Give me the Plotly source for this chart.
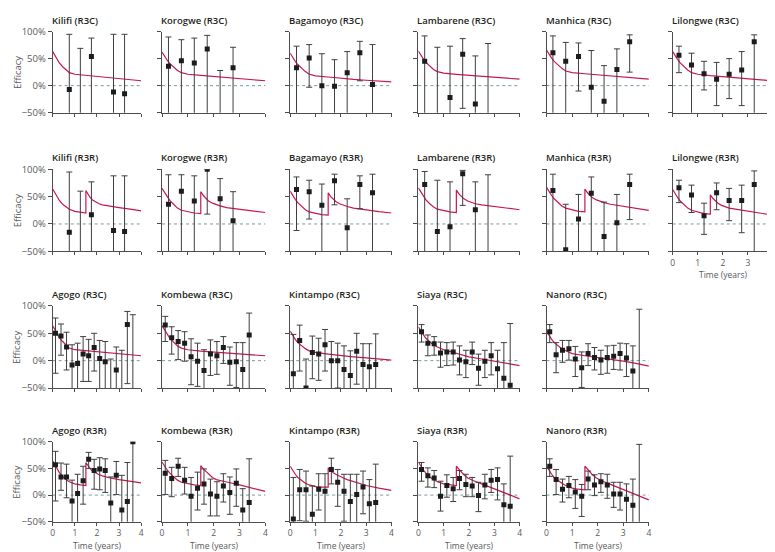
import plotly.graph_objects as go

# ---------------- data ----------------
T6_5A = [0.75, 1.25, 1.75, 2.75, 3.25]
T6_6 = [0.25, 0.75, 1.25, 1.75, 2.25, 2.75]
T6_7 = [0.25, 0.75, 1.25, 1.75, 2.25, 2.75, 3.25]
T3_14 = [0.125, 0.375, 0.625, 0.875, 1.125, 1.375, 1.625, 1.875, 2.125, 2.375, 2.625, 2.875, 3.125, 3.375]
T3_15 = T3_14 + [3.625]

FIT_T_C = [0, 0.1, 0.2, 0.3, 0.45, 0.6, 0.75, 1.0, 1.5, 2.0, 2.5, 3.0, 3.5, 4.0]
FIT_T_R = [0, 0.1, 0.2, 0.3, 0.45, 0.6, 0.75, 1.0, 1.25, 1.5, 1.5, 1.6, 1.7, 1.8, 1.95, 2.1, 2.25, 2.5, 3.0, 3.5, 4.0]

# Row 1 (R3C)
kilifi_r3c_eff = [-7, -70, 54, -12, -15]
kilifi_r3c_lo = [-100, -100, -100, -100, -100]
kilifi_r3c_hi = [95, 69, 88, 95, 95]
kilifi_r3c_fit = [63, 55, 48, 42, 35, 29, 24, 21, 19, 17, 15, 13, 11, 9]

korogwe_r3c_eff = [36, 46, 42, 68, -70, 33]
korogwe_r3c_lo = [-100, -100, -100, -100, -100, -100]
korogwe_r3c_hi = [90, 85, 88, 93, 28, 71]
korogwe_r3c_fit = [62, 54, 47, 41, 34, 28, 24, 21, 19, 17, 15, 13, 11, 9]

bagamoyo_r3c_eff = [33, 51, 0, -1, 24, 61, 2]
bagamoyo_r3c_lo = [-100, -3, -100, -100, -100, 9, -100]
bagamoyo_r3c_hi = [73, 76, 59, 48, 63, 82, 76]
bagamoyo_r3c_fit = [60, 52, 45, 39, 32, 26, 21, 18, 16, 13.5, 11.5, 10, 8.5, 7]

lambarene_r3c_eff = [45, -70, -22, 58, -34, -70]
lambarene_r3c_lo = [-100, -100, -100, -42, -100, -100]
lambarene_r3c_hi = [92, 71, 73, 87, 55, 78]
lambarene_r3c_fit = [64, 56, 49, 43, 36, 30, 26, 23, 21, 19, 17, 15.5, 13.5, 12]

manhica_r3c_eff = [61, 45, 54, -3, -29, 30, 81]
manhica_r3c_lo = [-100, -100, -10, -100, -100, -100, 25]
manhica_r3c_hi = [92, 80, 79, 65, 37, 68, 94]
manhica_r3c_fit = [66, 58, 51, 45, 38, 32, 27, 24, 22, 20, 18, 16, 14, 12]

lilongwe_r3c_eff = [56, 38, 22, 12, 21, 29, 81]
lilongwe_r3c_lo = [24, -100, -8, -37, -24, -37, -100]
lilongwe_r3c_hi = [73, 60, 45, 43, 50, 63, 94]
lilongwe_r3c_fit = [63, 55, 48, 42, 35, 29, 24, 21, 18.5, 16.5, 14.5, 12.5, 11, 9]

# Row 2 (R3R)
kilifi_r3r_eff = [-15, -70, 17, -12, -14]
kilifi_r3r_lo = [-100, -100, -100, -100, -100]
kilifi_r3r_hi = [95, 60, 77, 88, 88]
kilifi_r3r_fit = [64, 56, 49, 43, 36, 31, 27, 23, 21, 20, 61, 54, 48, 44, 40, 37, 35, 33, 30, 27, 24]

korogwe_r3r_eff = [36, 60, 42, 100, 46, 6]
korogwe_r3r_lo = [-100, -100, -100, 18, -100, -100]
korogwe_r3r_hi = [90, 90, 88, 100, 83, 59]
korogwe_r3r_fit = [65, 57, 50, 43, 36, 29, 25, 22, 20, 19, 59, 52, 46, 42, 38, 35, 33, 30, 27, 24, 21]

bagamoyo_r3r_eff = [63, 59, 34, 79, -7, 72, 57]
bagamoyo_r3r_lo = [-12, 9, -100, 35, -100, 28, -100]
bagamoyo_r3r_hi = [86, 80, 73, 91, 46, 88, 91]
bagamoyo_r3r_fit = [60, 52, 45, 39, 32, 26, 22, 19, 17, 16, 57, 50, 45, 41, 37, 34, 32, 29, 25.5, 22.5, 20]

lambarene_r3r_eff = [72, -14, -5, 92, 26, -70]
lambarene_r3r_lo = [-100, -100, -100, 34, -100, -100]
lambarene_r3r_hi = [96, 80, 77, 98, 77, 90]
lambarene_r3r_fit = [66, 58, 51, 44, 37, 31, 27, 24, 22, 21, 62, 55, 50, 46, 42, 39, 37, 35, 32, 29, 26]

manhica_r3r_eff = [61, -47, 9, 56, -23, 2, 72]
manhica_r3r_lo = [-100, -100, -100, -100, -100, -100, 8]
manhica_r3r_hi = [91, 36, 54, 86, 40, 54, 91]
manhica_r3r_fit = [67, 59, 52, 46, 39, 33, 29, 26, 23, 22, 64, 57, 52, 48, 44, 41, 39, 36, 32, 28.5, 25]

lilongwe_r3r_eff = [66, 53, 15, 57, 43, 43, 72]
lilongwe_r3r_lo = [39, 21, -19, 26, 6, -16, -100]
lilongwe_r3r_hi = [80, 71, 38, 75, 65, 71, 97]
lilongwe_r3r_fit = [63, 55, 48, 42, 35, 29, 25, 22, 19, 18, 53, 47, 42, 38, 34, 31, 29, 27, 23, 19.5, 16]

# Row 3 (R3C)
agogo_r3c_eff = [50, 45, 25, -8, -5, 12, 9, 24, 4, -2, -70, -17, -70, 66, -70]
agogo_r3c_lo = [-23, 10, -17, -100, -100, -38, -38, -19, -100, -100, -100, -100, -100, -42, -100]
agogo_r3c_hi = [78, 67, 52, 29, 32, 44, 39, 50, 37, 35, 3, 25, 19, 90, 84]
agogo_r3c_fit = [64, 56, 49, 42, 35, 28, 23, 20, 18, 16, 14, 12.5, 11, 9]

kombewa_r3c_eff = [65, 42, 35, 32, 7, -1, -18, 12, 9, 24, -3, -2, -16, 47]
kombewa_r3c_lo = [35, 12, 2, -1, -44, -47, -100, -27, -25, -5, -45, -49, -100, -100]
kombewa_r3c_hi = [81, 62, 55, 53, 40, 32, 20, 38, 35, 44, 25, 33, 33, 87]
kombewa_r3c_fit = [64, 56, 48, 41, 34, 27, 23, 20, 17.5, 15.5, 14, 12, 10.5, 9]

kintampo_r3c_eff = [-24, 37, -50, 15, 12, 29, 0, 0, -16, -27, 17, -7, -11, -7]
kintampo_r3c_lo = [-100, -19, -100, -33, -36, -19, -100, -50, -100, -100, -43, -100, -100, -100]
kintampo_r3c_hi = [48, 65, 3, 45, 41, 57, 35, 32, 27, 18, 50, 31, 31, 49]
kintampo_r3c_fit = [54, 46, 39, 33, 27, 22, 18, 15, 12, 9, 7, 5, 3, 1]

siaya_r3c_eff = [53, 32, 31, 14, 16, 16, 1, -2, 16, -14, -1, 9, -15, -32, -45]
siaya_r3c_lo = [34, 9, 10, -12, -9, -8, -26, -31, -7, -45, -31, -26, -100, -100, -100]
siaya_r3c_hi = [66, 47, 44, 34, 33, 34, 27, 19, 34, 12, 19, 33, 19, 33, 68]
siaya_r3c_fit = [62, 54, 47, 41, 34, 29, 25, 20, 13, 7, 3, -1, -5, -9]

nanoro_r3c_eff = [53, 11, 19, 22, 3, -13, 13, 6, 1, 6, 8, 13, 5, -19, -70]
nanoro_r3c_lo = [33, -22, -3, 1, -29, -49, -9, -17, -25, -23, -16, -17, -29, -100, -100]
nanoro_r3c_hi = [66, 33, 37, 37, 26, 16, 31, 24, 19, 27, 28, 32, 31, 27, 94]
nanoro_r3c_fit = [54, 46, 39, 33, 27, 22, 18, 13, 9, 6, 3, -1, -5, -10]

# Row 4 (R3R)
agogo_r3r_eff = [57, 34, 34, -11, 3, 27, 67, 46, 49, 46, -15, 37, -28, -12, 100]
agogo_r3r_lo = [-11, 9, -5, -100, -100, -17, 50, 11, 10, 5, -100, 1, -100, -100, -100]
agogo_r3r_hi = [82, 60, 58, 28, 39, 54, 80, 67, 70, 68, 34, 63, 37, 61, 100]
agogo_r3r_fit = [64, 56, 49, 42, 35, 29, 25, 21, 19, 18, 61, 54, 49, 45, 41, 38, 36, 33, 29, 26, 23]

kombewa_r3r_eff = [41, 31, 54, 28, -2, 13, 21, 2, -2, 17, 5, 22, -28, -14]
kombewa_r3r_lo = [1, -3, 35, 2, -100, -28, -17, -39, -39, -13, -36, -21, -100, -100]
kombewa_r3r_hi = [65, 52, 69, 52, 33, 43, 49, 30, 25, 40, 34, 49, 12, 68]
kombewa_r3r_fit = [62, 54, 47, 41, 34, 28, 24, 21, 19, 18, 55, 49, 44, 40, 33, 29, 27, 24.5, 19, 13, 7]

kintampo_r3r_eff = [-45, 10, 10, -36, 11, 7, 48, 24, 7, -12, 1, 15, -16, -14]
kintampo_r3r_lo = [-100, -48, -49, -100, -28, -100, 21, -21, -49, -100, -100, -35, -100, -100]
kintampo_r3r_hi = [33, 48, 45, 17, 40, 40, 69, 48, 39, 39, 39, 45, 29, 58]
kintampo_r3r_fit = [54, 46, 39, 33, 27, 22, 19, 16, 15, 15, 51, 46, 42, 39, 35, 32, 29, 25, 18, 13, 9]

siaya_r3r_eff = [48, 36, 32, -2, 18, 12, 31, 20, 17, -1, 19, 28, 29, -18, -21]
siaya_r3r_lo = [26, 15, 14, -30, -4, -12, 10, -3, -3, -31, -7, 5, -9, -100, -100]
siaya_r3r_hi = [61, 51, 46, 26, 38, 33, 46, 39, 33, 24, 39, 48, 51, 21, 73]
siaya_r3r_fit = [62, 54, 47, 41, 34, 29, 25, 21, 19, 18, 54, 48, 43, 38, 32, 28, 25.5, 21, 11.5, 2, -7]

nanoro_r3r_eff = [54, 29, 11, 18, 6, -2, 30, 19, 25, 19, 2, 2, -8, -19, -70]
nanoro_r3r_lo = [35, 1, -13, -5, -25, -40, 10, -1, 5, -6, -23, -28, -100, -100, -100]
nanoro_r3r_hi = [68, 48, 30, 35, 29, 20, 45, 38, 40, 39, 24, 24, 21, 30, 95]
nanoro_r3r_fit = [54, 46, 39, 33, 27, 22, 18, 13, 11, 10, 54, 48, 43, 38, 32, 28, 25, 20, 10, 0.5, -9]

X_TICKS = [0, 1, 2, 3, 4]
Y_TICKS = [-50, 0, 50, 100]
Y_TICK_TEXT = ["\u221250%", "0%", "50%", "100%"]

# (title, row, col, times, eff, lo, hi, fit_t, fit)
panels = [
    ("Kilifi (R3C)", 0, 0, T6_5A, kilifi_r3c_eff, kilifi_r3c_lo, kilifi_r3c_hi, FIT_T_C, kilifi_r3c_fit),
    ("Korogwe (R3C)", 0, 1, T6_6, korogwe_r3c_eff, korogwe_r3c_lo, korogwe_r3c_hi, FIT_T_C, korogwe_r3c_fit),
    ("Bagamoyo (R3C)", 0, 2, T6_7, bagamoyo_r3c_eff, bagamoyo_r3c_lo, bagamoyo_r3c_hi, FIT_T_C, bagamoyo_r3c_fit),
    ("Lambarene (R3C)", 0, 3, T6_6, lambarene_r3c_eff, lambarene_r3c_lo, lambarene_r3c_hi, FIT_T_C, lambarene_r3c_fit),
    ("Manhica (R3C)", 0, 4, T6_7, manhica_r3c_eff, manhica_r3c_lo, manhica_r3c_hi, FIT_T_C, manhica_r3c_fit),
    ("Lilongwe (R3C)", 0, 5, T6_7, lilongwe_r3c_eff, lilongwe_r3c_lo, lilongwe_r3c_hi, FIT_T_C, lilongwe_r3c_fit),
    ("Kilifi (R3R)", 1, 0, T6_5A, kilifi_r3r_eff, kilifi_r3r_lo, kilifi_r3r_hi, FIT_T_R, kilifi_r3r_fit),
    ("Korogwe (R3R)", 1, 1, T6_6, korogwe_r3r_eff, korogwe_r3r_lo, korogwe_r3r_hi, FIT_T_R, korogwe_r3r_fit),
    ("Bagamayo (R3R)", 1, 2, T6_7, bagamoyo_r3r_eff, bagamoyo_r3r_lo, bagamoyo_r3r_hi, FIT_T_R, bagamoyo_r3r_fit),
    ("Lambarene (R3R)", 1, 3, T6_6, lambarene_r3r_eff, lambarene_r3r_lo, lambarene_r3r_hi, FIT_T_R, lambarene_r3r_fit),
    ("Manhica (R3R)", 1, 4, T6_7, manhica_r3r_eff, manhica_r3r_lo, manhica_r3r_hi, FIT_T_R, manhica_r3r_fit),
    ("Lilongwe (R3R)", 1, 5, T6_7, lilongwe_r3r_eff, lilongwe_r3r_lo, lilongwe_r3r_hi, FIT_T_R, lilongwe_r3r_fit),
    ("Agogo (R3C)", 2, 0, T3_15, agogo_r3c_eff, agogo_r3c_lo, agogo_r3c_hi, FIT_T_C, agogo_r3c_fit),
    ("Kombewa (R3C)", 2, 1, T3_14, kombewa_r3c_eff, kombewa_r3c_lo, kombewa_r3c_hi, FIT_T_C, kombewa_r3c_fit),
    ("Kintampo (R3C)", 2, 2, T3_14, kintampo_r3c_eff, kintampo_r3c_lo, kintampo_r3c_hi, FIT_T_C, kintampo_r3c_fit),
    ("Siaya (R3C)", 2, 3, T3_15, siaya_r3c_eff, siaya_r3c_lo, siaya_r3c_hi, FIT_T_C, siaya_r3c_fit),
    ("Nanoro (R3C)", 2, 4, T3_15, nanoro_r3c_eff, nanoro_r3c_lo, nanoro_r3c_hi, FIT_T_C, nanoro_r3c_fit),
    ("Agogo (R3R)", 3, 0, T3_15, agogo_r3r_eff, agogo_r3r_lo, agogo_r3r_hi, FIT_T_R, agogo_r3r_fit),
    ("Kombewa (R3R)", 3, 1, T3_14, kombewa_r3r_eff, kombewa_r3r_lo, kombewa_r3r_hi, FIT_T_R, kombewa_r3r_fit),
    ("Kintampo (R3R)", 3, 2, T3_14, kintampo_r3r_eff, kintampo_r3r_lo, kintampo_r3r_hi, FIT_T_R, kintampo_r3r_fit),
    ("Siaya (R3R)", 3, 3, T3_15, siaya_r3r_eff, siaya_r3r_lo, siaya_r3r_hi, FIT_T_R, siaya_r3r_fit),
    ("Nanoro (R3R)", 3, 4, T3_15, nanoro_r3r_eff, nanoro_r3r_lo, nanoro_r3r_hi, FIT_T_R, nanoro_r3r_fit),
]

# ---------------- layout geometry (pixels) ----------------
W, H = 775, 552
COLS = [(43, 132), (153, 257), (282, 384), (411, 513), (540, 643), (667, 768)]
ROWS = [(17, 100), (158, 242), (298, 382), (437, 519)]

AXIS_COLOR = "#4d4d4f"
TEXT_COLOR = "#58595b"
FONT = "Open Sans"
FIT_COLOR = "#c8174f"
BAR_COLOR = "#3f3f40"
ZERO_COLOR = "#7b98a6"
TICK_SIZE = 8.5
LABEL_SIZE = 8.5

fig = go.Figure()
layout = dict(
    width=W, height=H,
    margin=dict(l=0, r=0, t=0, b=0),
    paper_bgcolor="white", plot_bgcolor="white",
    showlegend=False,
    font=dict(family=FONT, size=TICK_SIZE, color=TEXT_COLOR),
)
annotations = []
shapes = []

for i, (title, r, c, t, eff, lo, hi, ft, fit) in enumerate(panels, start=1):
    xa = "x" if i == 1 else f"x{i}"
    ya = "y" if i == 1 else f"y{i}"
    x0, x1 = COLS[c]
    y0, y1 = ROWS[r]
    show_x = (r == 3) or (r == 1 and c == 5)
    show_y = (c == 0)
    layout["xaxis" if i == 1 else f"xaxis{i}"] = dict(
        domain=[x0 / W, x1 / W], anchor=ya, range=[0, 4],
        tickvals=X_TICKS, showticklabels=show_x, ticks="outside", ticklen=3,
        tickcolor=AXIS_COLOR, tickwidth=1, showline=True, linecolor=AXIS_COLOR,
        linewidth=1, showgrid=False, zeroline=False,
        tickfont=dict(family=FONT, size=TICK_SIZE, color=TEXT_COLOR), fixedrange=True,
    )
    layout["yaxis" if i == 1 else f"yaxis{i}"] = dict(
        domain=[1 - y1 / H, 1 - y0 / H], anchor=xa, range=[-50, 100],
        tickvals=Y_TICKS, ticktext=Y_TICK_TEXT, showticklabels=show_y,
        ticks="outside", ticklen=4, tickcolor=AXIS_COLOR, tickwidth=1,
        showline=True, linecolor=AXIS_COLOR, linewidth=1, showgrid=False,
        zeroline=False, tickfont=dict(family=FONT, size=9.5, color=TEXT_COLOR),
        fixedrange=True,
    )
    shapes.append(dict(type="line", xref=f"{xa} domain", yref=ya, x0=0, x1=1,
                       y0=0, y1=0, line=dict(color=ZERO_COLOR, width=1, dash="3px,3px"),
                       layer="below"))
    fig.add_trace(go.Scatter(x=ft, y=fit, mode="lines", xaxis=xa, yaxis=ya,
                             line=dict(color=FIT_COLOR, width=1.2), hoverinfo="skip"))
    fig.add_trace(go.Scatter(
        x=t, y=eff, mode="markers", xaxis=xa, yaxis=ya,
        marker=dict(symbol="square", size=5, color="#1c1c1c"),
        error_y=dict(type="data", symmetric=False,
                     array=[h - e for h, e in zip(hi, eff)],
                     arrayminus=[e - l for e, l in zip(eff, lo)],
                     color=BAR_COLOR, thickness=1, width=3),
    ))
    annotations.append(dict(text=title, xref="paper", yref="paper", x=(x0 - 2) / W,
                            y=1 - (y0 - 4) / H, xanchor="left", yanchor="bottom",
                            showarrow=False, borderpad=0,
                            font=dict(family=FONT, size=9.5, color="#231f20", weight=600)))
    if show_y:
        annotations.append(dict(text="Efficacy", xref="paper", yref="paper",
                                x=7 / W, y=1 - (y0 + y1) / 2 / H, textangle=-90,
                                xanchor="center", yanchor="middle", showarrow=False,
                                borderpad=0,
                                font=dict(family=FONT, size=9.5, color=TEXT_COLOR)))
    if show_x:
        annotations.append(dict(text="Time (years)", xref="paper", yref="paper",
                                x=(x0 + x1) / 2 / W, y=1 - (y1 + 24) / H,
                                xanchor="center", yanchor="middle", showarrow=False,
                                borderpad=0,
                                font=dict(family=FONT, size=LABEL_SIZE, color=TEXT_COLOR)))

layout["annotations"] = annotations
layout["shapes"] = shapes
fig.update_layout(**layout)
fig.write_html("out.html")
